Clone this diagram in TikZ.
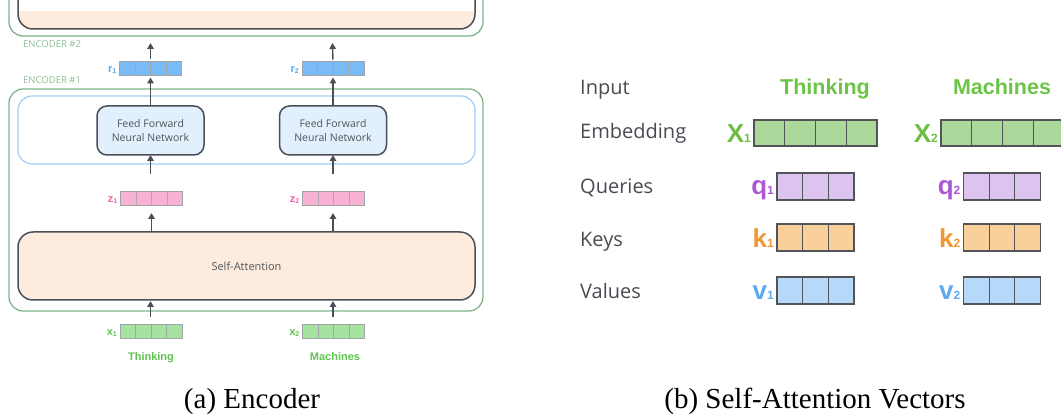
\documentclass[tikz,border=0pt]{standalone}
\usepackage{fontspec}
\setmainfont{Liberation Serif}
\newfontfamily\osans{Open Sans}
\newfontfamily\asans{Liberation Sans}
\usetikzlibrary{calc,arrows.meta}

\definecolor{encgreen}{RGB}{128,180,140}
\definecolor{enctext}{RGB}{140,192,152}
\definecolor{darkline}{RGB}{74,78,85}
\definecolor{textgray}{RGB}{80,84,90}
\definecolor{peach}{RGB}{253,235,221}
\definecolor{ffnline}{RGB}{160,206,246}
\definecolor{ffnfill}{RGB}{226,239,252}
\definecolor{rfill}{RGB}{122,186,247}
\definecolor{rlabel}{RGB}{80,170,240}
\definecolor{zfill}{RGB}{248,178,212}
\definecolor{zlabel}{RGB}{240,100,170}
\definecolor{xfill}{RGB}{166,226,160}
\definecolor{xlabel}{RGB}{95,196,80}
\definecolor{vecgray}{RGB}{160,165,170}
\definecolor{rowgray}{RGB}{72,76,82}
\definecolor{wordgreen}{RGB}{108,196,70}
\definecolor{Xfill}{RGB}{172,216,156}
\definecolor{Xlabel}{RGB}{110,190,70}
\definecolor{qfill}{RGB}{221,195,240}
\definecolor{qlabel}{RGB}{172,88,214}
\definecolor{kfill}{RGB}{249,208,156}
\definecolor{klabel}{RGB}{240,150,50}
\definecolor{vfill}{RGB}{182,217,250}
\definecolor{vlabel}{RGB}{92,170,240}
\definecolor{cellline}{RGB}{82,84,88}

% divider lines inside a vector node: name, count, number of cells, style
\newcommand\celllines[4]{%
  \foreach \i in {1,...,#2}{%
    \pgfmathsetmacro\cellfrac{\i/#3}%
    \draw[#4] ($(#1.north west)!\cellfrac!(#1.north east)$) -- ($(#1.south west)!\cellfrac!(#1.south east)$);
  }%
}

\begin{document}
\begin{tikzpicture}[x=1pt,y=-1pt,
  greenbox/.style={draw=encgreen, line width=1.3pt, rounded corners=14pt, inner sep=0pt, outer sep=0pt},
  attnbox/.style={draw=darkline, line width=1.5pt, rounded corners=15pt, fill=peach, inner sep=0pt, outer sep=0pt,
    text=textgray, font=\osans\fontsize{11}{13}\selectfont},
  layerbox/.style={draw=ffnline, line width=1.2pt, rounded corners=14pt, inner sep=0pt, outer sep=0pt},
  ffnbox/.style={draw=darkline, line width=1.5pt, rounded corners=10pt, fill=ffnfill, inner sep=0pt, outer sep=0pt,
    align=center, text=textgray, font=\osans\fontsize{10.5}{14}\selectfont, minimum width=107pt, minimum height=49pt},
  lvec/.style={draw=vecgray, line width=0.8pt, inner sep=0pt, outer sep=0pt, minimum width=62pt, minimum height=14pt},
  rvec/.style={draw=cellline, line width=1.3pt, inner sep=0pt, outer sep=0pt, minimum height=27pt},
  enclabel/.style={text=enctext, font=\osans\fontsize{9.5}{11}\selectfont, anchor=west, inner sep=0pt},
  smalllabel/.style={font=\asans\bfseries\fontsize{11}{12}\selectfont, anchor=base east, inner sep=0pt},
  biglabel/.style={font=\asans\bfseries\fontsize{26}{28}\selectfont, anchor=base east, inner sep=0pt},
  rowlabel/.style={text=rowgray, font=\osans\fontsize{20}{24}\selectfont, anchor=base west, inner sep=0pt},
  word/.style={font=\asans\bfseries\fontsize{11}{13}\selectfont, text=xlabel, anchor=base, inner sep=0pt},
  bigword/.style={font=\asans\bfseries\fontsize{21.5}{24}\selectfont, text=wordgreen, anchor=base, inner sep=0pt},
  caption/.style={font=\fontsize{29}{32}\selectfont, anchor=base, inner sep=0pt},
  arr/.style={draw=darkline, line width=1.4pt, -{Triangle[length=6pt,width=6.5pt]}}
]
\clip (0,0) rectangle (1061,419);
\fill[white] (0,0) rectangle (1061,419);

% ---------------- (a) Encoder ----------------
% second encoder, only its lower edge is in view
\node[greenbox, minimum width=474pt, minimum height=80pt] (enc2) at (246,-4) {};
\node[attnbox, minimum width=457pt, minimum height=73pt] (attn2) at (246.5,-7.5) {};
\fill[white] (19.2,-1) rectangle (473.8,11);
\node[enclabel] (enc2lbl) at (23,44) {ENCODER \#2};

% first encoder
\node[greenbox, minimum width=474pt, minimum height=222pt] (enc1) at (246,200) {};
\node[enclabel] (enc1lbl) at (23,80) {ENCODER \#1};
\node[layerbox, minimum width=457pt, minimum height=68pt] (ffnlayer) at (246.5,130) {};
\node[ffnbox] (ffn1) at (150.5,130.5) {Feed Forward\\Neural Network};
\node[ffnbox] (ffn2) at (333,130.5) {Feed Forward\\Neural Network};
\node[attnbox, minimum width=457pt, minimum height=68pt] (attn1) at (246.5,266) {Self-Attention};

% vectors
\node[lvec, fill=rfill] (r1) at (150.5,68.5) {};
\node[lvec, fill=rfill] (r2) at (333,68.5) {};
\node[lvec, fill=zfill] (z1) at (151.5,198) {};
\node[lvec, fill=zfill] (z2) at (333.5,198) {};
\node[lvec, fill=xfill] (x1) at (151,331) {};
\node[lvec, fill=xfill] (x2) at (333.5,331) {};
\celllines{r1}{3}{4}{draw=vecgray, line width=0.8pt}
\celllines{r2}{3}{4}{draw=vecgray, line width=0.8pt}
\celllines{z1}{3}{4}{draw=vecgray!80!zfill, line width=0.8pt}
\celllines{z2}{3}{4}{draw=vecgray!80!zfill, line width=0.8pt}
\celllines{x1}{3}{4}{draw=vecgray, line width=0.8pt}
\celllines{x2}{3}{4}{draw=vecgray, line width=0.8pt}

\node[smalllabel, text=rlabel] (r1lbl) at ($(r1.west)+(-3,4.5)$) {r\raisebox{-1pt}{\fontsize{7}{7}\selectfont 1}};
\node[smalllabel, text=rlabel] (r2lbl) at ($(r2.west)+(-3,4.5)$) {r\raisebox{-1pt}{\fontsize{7}{7}\selectfont 2}};
\node[smalllabel, text=zlabel] (z1lbl) at ($(z1.west)+(-3,4.5)$) {z\raisebox{-1pt}{\fontsize{7}{7}\selectfont 1}};
\node[smalllabel, text=zlabel] (z2lbl) at ($(z2.west)+(-3,4.5)$) {z\raisebox{-1pt}{\fontsize{7}{7}\selectfont 2}};
\node[smalllabel, text=xlabel] (x1lbl) at ($(x1.west)+(-3,4.5)$) {x\raisebox{-1pt}{\fontsize{7}{7}\selectfont 1}};
\node[smalllabel, text=xlabel] (x2lbl) at ($(x2.west)+(-3,4.5)$) {x\raisebox{-1pt}{\fontsize{7}{7}\selectfont 2}};

\node[word] (w1) at (151,361) {Thinking};
\node[word] (w2) at (335,361) {Machines};

% connectors
\coordinate (up1) at (150.5,43);
\coordinate (up2) at (332.5,43);
\draw[arr, shorten <=2pt] (r1.north) -- (up1);
\draw[arr, shorten <=2pt] (r2.north) -- (up2);
\draw[arr, shorten >=2pt] (ffn1.north) -- (r1.south);
\draw[arr, shorten >=2pt] (ffn2.north) -- (ffn2.north |- r2.south);
\draw[arr, shorten <=17pt] (ffn1.south |- z1.north) -- (ffn1.south);
\draw[arr, shorten <=17pt] (ffn2.south |- z2.north) -- (ffn2.south);
\draw[arr, shorten >=8pt] (attn1.north -| z1.south) -- (z1.south);
\draw[arr, shorten >=8pt] (attn1.north -| ffn2.south) -- (ffn2.south |- z2.south);
\draw[arr, shorten <=7pt, shorten >=1pt] (x1.north -| ffn1.south) -- (attn1.south -| ffn1.south);
\draw[arr, shorten <=7pt, shorten >=1pt] (x2.north -| ffn2.south) -- (attn1.south -| ffn2.south);

% ---------------- (b) Self-Attention Vectors ----------------
\node[rowlabel] (inlbl) at (580,95) {Input};
\node[rowlabel] (emblbl) at (580,139) {Embedding};
\node[rowlabel] (qlbl) at (580,194) {Queries};
\node[rowlabel] (klbl) at (580,247) {Keys};
\node[rowlabel] (vlbl) at (580,299) {Values};

\node[bigword] (W1) at (825,95) {Thinking};
\node[bigword] (W2) at (1002,95) {Machines};

\node[rvec, fill=Xfill, minimum width=123pt, minimum height=26pt] (X1) at (815.5,133) {};
\node[rvec, fill=Xfill, minimum width=123pt, minimum height=26pt] (X2) at (1002.5,133) {};
\node[rvec, fill=qfill, minimum width=77pt] (q1) at (815.5,186.5) {};
\node[rvec, fill=qfill, minimum width=77pt] (q2) at (1002,186.5) {};
\node[rvec, fill=kfill, minimum width=77pt] (k1) at (815.5,237.5) {};
\node[rvec, fill=kfill, minimum width=77pt] (k2) at (1002,237.5) {};
\node[rvec, fill=vfill, minimum width=77pt] (v1) at (815.5,290.5) {};
\node[rvec, fill=vfill, minimum width=77pt] (v2) at (1002,290.5) {};
\celllines{X1}{3}{4}{draw=cellline, line width=1.3pt}
\celllines{X2}{3}{4}{draw=cellline, line width=1.3pt}
\celllines{q1}{2}{3}{draw=cellline, line width=1.3pt}
\celllines{q2}{2}{3}{draw=cellline, line width=1.3pt}
\celllines{k1}{2}{3}{draw=cellline, line width=1.3pt}
\celllines{k2}{2}{3}{draw=cellline, line width=1.3pt}
\celllines{v1}{2}{3}{draw=cellline, line width=1.3pt}
\celllines{v2}{2}{3}{draw=cellline, line width=1.3pt}

\node[biglabel, text=Xlabel] (X1lbl) at ($(X1.west)+(-3,10)$) {X{\fontsize{12}{12}\selectfont 1}};
\node[biglabel, text=Xlabel] (X2lbl) at ($(X2.west)+(-3,10)$) {X{\fontsize{12}{12}\selectfont 2}};
\node[biglabel, text=qlabel] (q1lbl) at ($(q1.west)+(-3,8)$) {q{\fontsize{12}{12}\selectfont 1}};
\node[biglabel, text=qlabel] (q2lbl) at ($(q2.west)+(-3,8)$) {q{\fontsize{12}{12}\selectfont 2}};
\node[biglabel, text=klabel] (k1lbl) at ($(k1.west)+(-3,10)$) {k{\fontsize{12}{12}\selectfont 1}};
\node[biglabel, text=klabel] (k2lbl) at ($(k2.west)+(-3,10)$) {k{\fontsize{12}{12}\selectfont 2}};
\node[biglabel, text=vlabel] (v1lbl) at ($(v1.west)+(-3,9)$) {v{\fontsize{12}{12}\selectfont 1}};
\node[biglabel, text=vlabel] (v2lbl) at ($(v2.west)+(-3,9)$) {v{\fontsize{12}{12}\selectfont 2}};

% captions
\node[caption] (capa) at (252,409) {(a) Encoder};
\node[caption] (capb) at (815,409) {(b) Self-Attention Vectors};
\end{tikzpicture}
\end{document}
